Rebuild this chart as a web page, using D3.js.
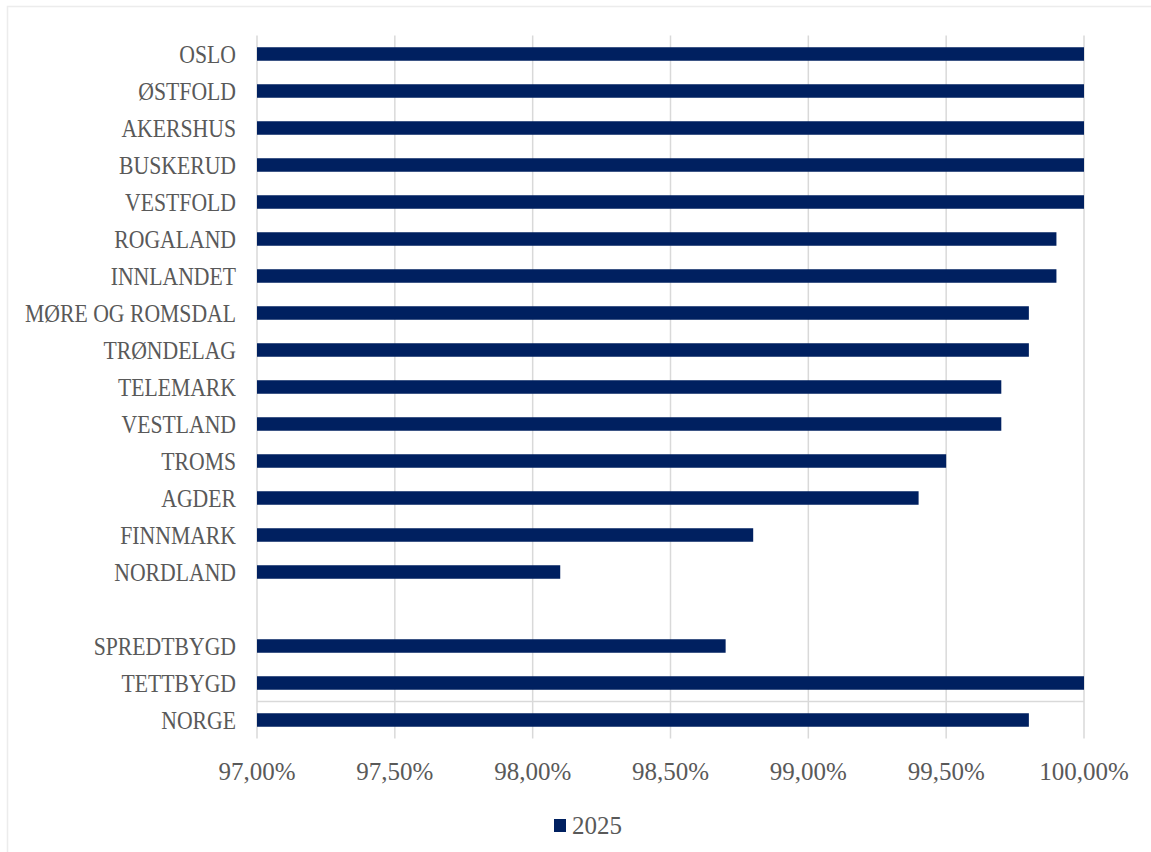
<!DOCTYPE html>
<html>
<head>
<meta charset="utf-8">
<script src="https://cdn.jsdelivr.net/npm/d3@7/dist/d3.min.js"></script>
<style>
html,body{margin:0;padding:0;background:#fff;}
svg{display:block;}
text{font-family:"Liberation Serif","DejaVu Serif",serif;fill:#595959;}
</style>
</head>
<body>
<svg id="chart" width="1151" height="852"></svg>
<script>
// Data
const categories = ["OSLO","ØSTFOLD","AKERSHUS","BUSKERUD","VESTFOLD","ROGALAND","INNLANDET","MØRE OG ROMSDAL","TRØNDELAG","TELEMARK","VESTLAND","TROMS","AGDER","FINNMARK","NORDLAND","","SPREDTBYGD","TETTBYGD","NORGE"];
const values2025 = [1.0,1.0,1.0,1.0,1.0,0.999,0.999,0.998,0.998,0.997,0.997,0.995,0.994,0.988,0.981,null,0.987,1.0,0.998];
const xTicks = [0.97,0.975,0.98,0.985,0.99,0.995,1.0];
const seriesName = "2025";

(function(){
const svg = d3.select("#chart");
const W = 1151, H = 852;
const pLeft = 257, pRight = 1084, pTop = 35.5, pBottom = 738.5;
const navy = "#002060";
const grid = "#d9d9d9";
const labelScaleX = 0.835;

// outer frame
svg.append("rect").attr("x",7.5).attr("y",6.5).attr("width",W+10).attr("height",H+10)
  .attr("fill","none").attr("stroke","#ececec").attr("stroke-width",1.5);

const keys = categories.map((c,i)=>i);
const x = d3.scaleLinear().domain([0.97,1.0]).range([pLeft,pRight]);
const y = d3.scaleBand().domain(keys).range([pTop,pBottom]).paddingInner(0.635).paddingOuter(0.3175);

// gridlines
svg.append("g").selectAll("line").data(xTicks).join("line")
  .attr("x1",d=>x(d)).attr("x2",d=>x(d)).attr("y1",pTop).attr("y2",pBottom)
  .attr("stroke",grid).attr("stroke-width",1.5);

// separator line between TETTBYGD and NORGE
const iT = categories.indexOf("TETTBYGD"), iN = categories.indexOf("NORGE");
const sepY = (y(iT)+y.bandwidth()/2 + y(iN)+y.bandwidth()/2)/2;
svg.append("line").attr("x1",pLeft).attr("x2",pRight).attr("y1",sepY).attr("y2",sepY)
  .attr("stroke",grid).attr("stroke-width",1.5);

// bars
svg.append("g").selectAll("rect").data(keys.filter(i=>values2025[i]!==null)).join("rect")
  .attr("x",x(0.97))
  .attr("y",i=>y(i))
  .attr("width",i=>x(values2025[i])-x(0.97))
  .attr("height",y.bandwidth())
  .attr("fill",navy);

// category labels
svg.append("g").selectAll("text").data(keys.filter(i=>categories[i]!=="")).join("text")
  .attr("transform",i=>`translate(236,${y(i)+y.bandwidth()/2}) scale(${labelScaleX},1)`)
  .attr("text-anchor","end")
  .attr("dominant-baseline","central")
  .attr("font-size",26)
  .text(i=>categories[i]);

// x axis tick labels
const fmt = v => (v*100).toFixed(2).replace(".",",") + "%";
svg.append("g").selectAll("text").data(xTicks).join("text")
  .attr("x",d=>x(d)).attr("y",771)
  .attr("text-anchor","middle")
  .attr("dominant-baseline","central")
  .attr("font-size",25)
  .text(fmt);

// legend
svg.append("rect").attr("x",554).attr("y",819).attr("width",12).attr("height",13).attr("fill",navy);
svg.append("text").attr("x",572).attr("y",825).attr("dominant-baseline","central")
  .attr("font-size",25).text(seriesName);
})();
</script>
</body>
</html>
